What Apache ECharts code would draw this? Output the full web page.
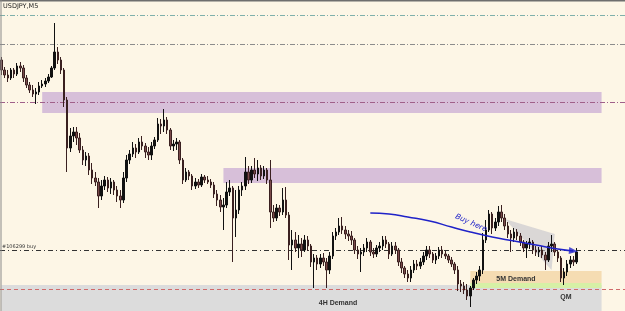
<!DOCTYPE html>
<html><head><meta charset="utf-8">
<script src="https://cdn.jsdelivr.net/npm/echarts@6/dist/echarts.min.js"></script>
<style>html,body{margin:0;padding:0;background:#fdf6e6;}#c{width:625px;height:311px;}</style>
</head><body><div id="c"></div>
<script>
const chartTitle = 'USDJPY,M5';
const slotCount = 200;
const opens = [109.40,109.30,109.25,109.22,109.30,109.26,109.34,109.32,109.22,109.15,
109.10,109.06,109.08,109.14,109.16,109.19,109.23,109.32,109.48,109.40,
109.30,109.00,108.52,108.64,108.68,108.62,108.50,108.40,108.44,108.30,
108.22,108.18,108.04,108.14,108.20,108.12,108.18,108.10,108.04,108.00,
108.22,108.40,108.46,108.52,108.48,108.58,108.54,108.48,108.45,108.54,
108.60,108.76,108.74,108.80,108.70,108.54,108.56,108.58,108.40,108.20,
108.28,108.24,108.14,108.18,108.15,108.23,108.20,108.18,108.15,108.06,
108.00,107.93,107.95,108.08,108.12,107.82,107.90,108.10,108.14,108.28,
108.20,108.30,108.26,108.32,108.24,108.30,108.20,107.88,107.82,107.92,
107.88,108.00,107.85,107.55,107.60,107.52,107.56,107.50,107.60,107.54,
107.38,107.42,107.36,107.42,107.38,107.30,107.44,107.64,107.68,107.74,
107.70,107.66,107.64,107.60,107.50,107.46,107.48,107.52,107.58,107.48,
107.46,107.52,107.54,107.60,107.56,107.46,107.54,107.50,107.38,107.32,
107.26,107.22,107.30,107.36,107.34,107.38,107.44,107.50,107.46,107.40,
107.44,107.50,107.46,107.44,107.40,107.36,107.30,107.16,107.14,107.10,
107.04,107.12,107.20,107.24,107.30,107.60,107.70,107.86,107.72,107.78,
107.88,107.82,107.74,107.66,107.62,107.68,107.64,107.58,107.52,107.56,
107.58,107.50,107.48,107.50,107.45,107.40,107.54,107.56,107.48,107.42,
107.22,107.28,107.36,107.40,107.38];
const closes = [109.30,109.25,109.22,109.30,109.26,109.34,109.32,109.22,109.15,109.10,
109.06,109.08,109.14,109.16,109.19,109.23,109.32,109.48,109.40,109.30,
109.00,108.52,108.64,108.68,108.62,108.50,108.40,108.44,108.30,108.22,
108.18,108.04,108.14,108.20,108.12,108.18,108.10,108.04,108.00,108.22,
108.40,108.46,108.52,108.48,108.58,108.54,108.48,108.45,108.54,108.60,
108.76,108.74,108.80,108.70,108.54,108.56,108.58,108.40,108.20,108.28,
108.24,108.14,108.18,108.15,108.23,108.20,108.18,108.15,108.06,108.00,
107.93,107.95,108.08,108.12,107.82,107.90,108.10,108.14,108.28,108.20,
108.30,108.26,108.32,108.24,108.30,108.20,107.88,107.82,107.92,107.88,
108.00,107.85,107.55,107.60,107.52,107.56,107.50,107.60,107.54,107.38,
107.42,107.36,107.42,107.38,107.30,107.44,107.64,107.68,107.74,107.70,
107.66,107.64,107.60,107.50,107.46,107.48,107.52,107.58,107.48,107.46,
107.52,107.54,107.60,107.56,107.46,107.54,107.50,107.38,107.32,107.26,
107.22,107.30,107.36,107.34,107.38,107.44,107.50,107.46,107.40,107.44,
107.50,107.46,107.44,107.40,107.36,107.30,107.16,107.14,107.10,107.04,
107.12,107.20,107.24,107.30,107.60,107.70,107.86,107.72,107.78,107.88,
107.82,107.74,107.66,107.62,107.68,107.64,107.58,107.52,107.56,107.58,
107.50,107.48,107.50,107.45,107.40,107.54,107.56,107.48,107.42,107.22,
107.28,107.36,107.40,107.38,107.48];
const highs = [109.43,109.33,109.30,109.32,109.32,109.37,109.38,109.35,109.25,109.18,
109.15,109.12,109.18,109.20,109.22,109.26,109.34,109.77,109.53,109.43,
109.32,109.03,108.72,108.73,108.73,108.67,108.54,108.48,108.47,108.37,
108.28,108.22,108.20,108.24,108.23,108.22,108.20,108.14,108.10,108.28,
108.45,108.50,108.58,108.56,108.62,108.64,108.57,108.53,108.58,108.63,
108.82,108.81,108.91,108.83,108.72,108.60,108.62,108.60,108.42,108.32,
108.30,108.26,108.22,108.21,108.26,108.25,108.24,108.21,108.18,108.10,
108.05,108.02,108.18,108.20,108.14,108.10,108.14,108.18,108.43,108.34,
108.34,108.42,108.40,108.35,108.34,108.32,108.40,107.95,107.96,107.95,
108.12,108.13,107.88,107.70,107.68,107.65,107.62,107.65,107.64,107.56,
107.46,107.45,107.46,107.47,107.42,107.48,107.68,107.72,107.82,107.83,
107.74,107.70,107.69,107.62,107.54,107.52,107.56,107.62,107.60,107.52,
107.55,107.58,107.64,107.64,107.58,107.58,107.58,107.52,107.42,107.34,
107.30,107.34,107.40,107.40,107.42,107.48,107.54,107.54,107.48,107.47,
107.53,107.54,107.49,107.46,107.43,107.38,107.34,107.20,107.18,107.16,
107.14,107.22,107.28,107.34,107.67,107.80,107.90,107.88,107.82,107.94,
107.95,107.86,107.78,107.70,107.72,107.71,107.67,107.60,107.59,107.62,
107.60,107.54,107.53,107.54,107.48,107.58,107.65,107.58,107.50,107.44,
107.32,107.40,107.44,107.44,107.52];
const lows = [109.25,109.22,109.18,109.20,109.22,109.24,109.28,109.18,109.12,109.07,
109.03,108.96,109.05,109.12,109.13,109.17,109.22,109.30,109.36,109.26,
108.93,108.28,108.48,108.58,108.55,108.47,108.35,108.34,108.25,108.16,
108.14,107.92,108.00,108.10,108.08,108.06,108.05,107.98,107.92,107.97,
108.18,108.36,108.43,108.42,108.46,108.50,108.42,108.40,108.40,108.51,
108.58,108.66,108.68,108.66,108.50,108.49,108.50,108.36,108.16,108.18,
108.20,108.10,108.11,108.12,108.13,108.17,108.16,108.12,108.02,107.94,
107.88,107.70,107.92,108.04,107.38,107.63,107.86,108.04,108.10,108.16,
108.17,108.22,108.19,108.20,108.21,108.16,107.72,107.78,107.79,107.84,
107.85,107.82,107.40,107.30,107.48,107.42,107.43,107.48,107.49,107.33,
107.12,107.30,107.32,107.34,107.12,107.26,107.41,107.60,107.65,107.66,
107.61,107.59,107.55,107.46,107.41,107.28,107.44,107.48,107.44,107.42,
107.43,107.48,107.50,107.52,107.41,107.44,107.46,107.34,107.27,107.22,
107.18,107.18,107.27,107.30,107.31,107.35,107.40,107.42,107.37,107.36,
107.41,107.42,107.41,107.37,107.33,107.26,107.09,107.08,107.06,107.00,
106.93,107.10,107.16,107.19,107.26,107.57,107.68,107.66,107.69,107.74,
107.78,107.70,107.62,107.48,107.58,107.60,107.54,107.48,107.42,107.51,
107.46,107.44,107.43,107.42,107.30,107.38,107.48,107.44,107.38,107.18,
107.15,107.24,107.32,107.34,107.36];

// zones: [startSlot, endSlot, upper price, lower price]
const zoneNames = ['4H Demand', 'Supply 1', 'Supply 2', '5M Demand', 'QM'];
const zoneStart = [0, 13, 71, 150, 150];
const zoneEnd = [192, 192, 192, 192, 192];
const zoneTop = [107.15, 109.08, 108.32, 107.29, 107.17];
const zoneBottom = [106.89, 108.87, 108.17, 107.17, 107.12];
// horizontal levels
const levelPrices = [109.85, 109.56, 108.98, 107.50, 107.11];
const buyLabel = '#106299 buy';
// curved arrow path
const arrowSlots = [118, 124, 130, 137, 144, 150, 157, 164, 171, 178, 183];
const arrowPrices = [107.87, 107.86, 107.83, 107.79, 107.73, 107.68, 107.63, 107.59, 107.55, 107.51, 107.49];
// grey wedge
const wedgeSlots = [161, 177, 176];
const wedgePrices = [107.81, 107.66, 107.30];

const slots = [];
for (let i = 0; i < slotCount; i++) {
  const m = i * 5;
  slots.push(String(Math.floor(m / 60) % 24).padStart(2, '0') + ':' + String(m % 60).padStart(2, '0'));
}
const candles = opens.map((o, i) => [o, closes[i], lows[i], highs[i]]);
const lastArrow = arrowSlots.length - 1;

const zoneColors = ['#dcdcdc', '#d7bfd9', '#d7bfd9', '#f5dcb2', '#d6f0a6'];
const levelStyles = [
  {color: '#7fb0ab', type: [5, 2, 1, 2]},
  {color: '#8c8c8c', type: [5, 2, 1, 2]},
  {color: '#a0608a', type: [5, 2, 1, 2]},
  {color: '#333333', type: [5, 3, 1, 3]},
  {color: '#d06a6a', type: [4, 3]}
];

const chart = echarts.init(document.getElementById('c'), null, {renderer: 'canvas'});
chart.setOption({
  backgroundColor: '#fdf6e6',
  animation: false,
  grid: {left: 0, right: 0, top: 0, bottom: 0},
  xAxis: {type: 'category', data: slots, show: false, boundaryGap: true},
  yAxis: {type: 'value', min: 106.89, max: 110.00, show: false, scale: true},
  series: [
    {
      type: 'candlestick',
      data: candles,
      barWidth: 2,
      z: 3,
      itemStyle: {color: '#111111', color0: '#7a4a4a', borderColor: '#111111', borderColor0: '#3a2020', borderWidth: 1},
      markArea: {
        silent: true,
        z: 1,
        data: zoneStart.map((s, k) => [
          {xAxis: s, yAxis: zoneTop[k], itemStyle: {color: zoneColors[k]}},
          {xAxis: zoneEnd[k], yAxis: zoneBottom[k]}
        ])
      },
      markLine: {
        silent: true,
        symbol: 'none',
        z: 2,
        data: levelPrices.map((p, k) => ({
          yAxis: p,
          lineStyle: {color: levelStyles[k].color, type: levelStyles[k].type, width: 1},
          label: k === 3 ? {show: true, position: 'insideStartTop', formatter: buyLabel, fontSize: 5, color: '#333', fontFamily: 'DejaVu Sans', distance: [2, 1]} : {show: false}
        }))
      }
    },
    {
      type: 'custom',
      z: 2,
      silent: true,
      data: [0],
      renderItem: function (params, api) {
        const pts = wedgeSlots.map((s, k) => api.coord([s, wedgePrices[k]]));
        return {type: 'polygon', shape: {points: pts}, style: {fill: 'rgba(190,190,200,0.55)'}};
      }
    },
    {
      type: 'line',
      z: 4,
      smooth: true,
      silent: true,
      showSymbol: false,
      lineStyle: {color: '#1f22c8', width: 1.5},
      data: arrowSlots.map((s, k) => [s, arrowPrices[k]])
    },
    {
      type: 'scatter',
      z: 5,
      silent: true,
      symbol: 'triangle',
      symbolSize: [7, 9],
      symbolRotate: -95,
      itemStyle: {color: '#1f22c8'},
      data: [[arrowSlots[lastArrow], arrowPrices[lastArrow]]]
    }
  ],
  graphic: [
    {type: 'line', shape: {x1: 0, y1: 0.5, x2: 625, y2: 0.5}, style: {stroke: '#6e6e6e', lineWidth: 2}, z: 10},
    {type: 'line', shape: {x1: 1, y1: 0, x2: 1, y2: 311}, style: {stroke: '#8a8a8a', lineWidth: 1}, z: 10},
    {type: 'text', left: 3, top: 3, style: {text: chartTitle, font: '6.5px "DejaVu Sans"', fill: '#222'}, z: 10},
    {type: 'text', x: 471, y: 223, rotation: -0.42, style: {text: 'Buy here', font: 'italic 7.5px "DejaVu Sans"', fill: '#1f22c8', align: 'center', verticalAlign: 'middle'}, z: 10},
    {type: 'text', x: 516, y: 279, style: {text: '5M Demand', font: 'bold 7px "Liberation Sans"', fill: '#333', align: 'center', verticalAlign: 'middle'}, z: 10},
    {type: 'text', x: 566, y: 297, style: {text: 'QM', font: 'bold 7px "Liberation Sans"', fill: '#333', align: 'center', verticalAlign: 'middle'}, z: 10},
    {type: 'text', x: 338, y: 303, style: {text: '4H Demand', font: 'bold 7px "Liberation Sans"', fill: '#333', align: 'center', verticalAlign: 'middle'}, z: 10}
  ]
});
</script>
</body></html>
